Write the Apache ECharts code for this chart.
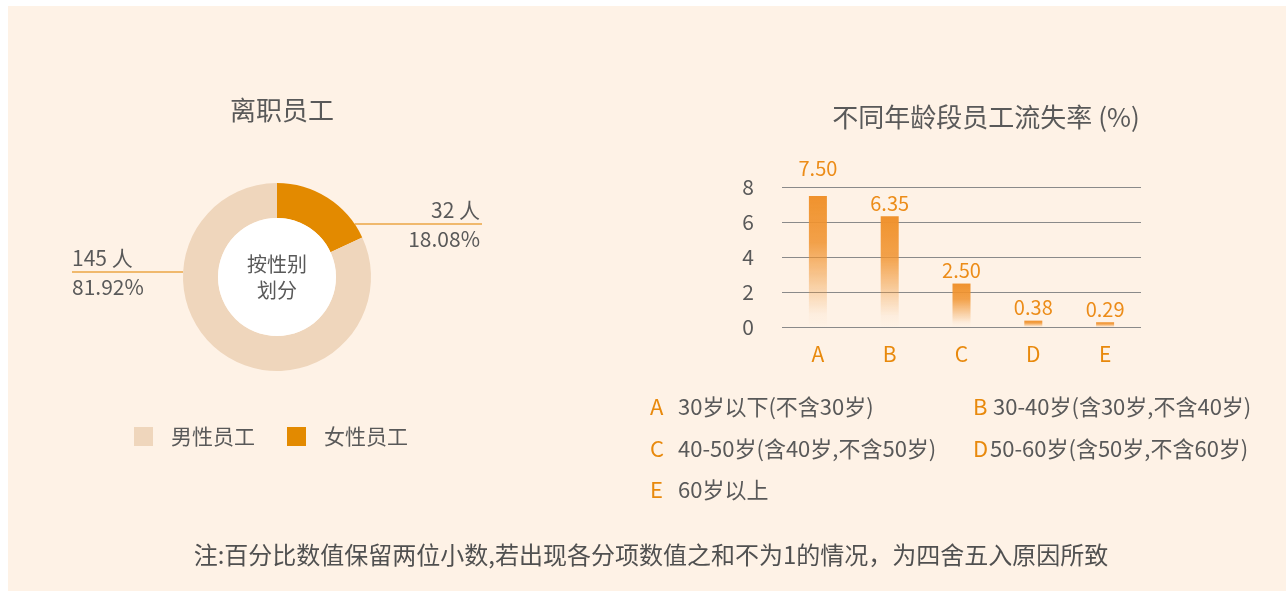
<!DOCTYPE html>
<html><head><meta charset="utf-8">
<script src="https://cdn.jsdelivr.net/npm/echarts@6/dist/echarts.min.js"></script>
<style>
html,body{margin:0;padding:0;background:#fff;width:1286px;height:592px;overflow:hidden}
#bg{position:absolute;left:8px;top:6px;width:1278px;height:585px;background:#FEF2E6}
#main{position:absolute;left:0;top:0;width:1286px;height:592px}
</style></head><body>
<div id="bg"></div><div id="main"></div>
<script>
// ---- data ----
const genderNames = ['女性员工', '男性员工'];
const genderCounts = [32, 145];
const legendOrder = ['男性员工', '女性员工'];
const ageCategories = ['A', 'B', 'C', 'D', 'E'];
const ageLossRates = [7.50, 6.35, 2.50, 0.38, 0.29];
const ageDescriptions = ['30岁以下(不含30岁)', '30-40岁(含30岁,不含40岁)', '40-50岁(含40岁,不含50岁)', '50-60岁(含50岁,不含60岁)', '60岁以上'];
const yAxisMin = 0, yAxisMax = 8, yAxisStep = 2;
const pieTitle = '离职员工';
const pieCenterText = '按性别\n划分';
const barTitle = '不同年龄段员工流失率 (%)';
const footnote = '注:百分比数值保留两位小数,若出现各分项数值之和不为1的情况，为四舍五入原因所致';

// ---- style / layout ----
const FONT = '"Noto Sans CJK SC", "Noto Sans", sans-serif';
const GRAY = '#595959';
const ORANGE = '#E8890C';
const BAR_ORANGE = 'rgba(240,146,45,';
const PIE = { cx: 277, cy: 277, rOut: 94, rIn: 59 };
const pieColors = ['#E38A00', '#EFD6BC'];
const pieLabelPlace = [
  { lineY: 224, edge: 482, side: 'right' },
  { lineY: 272, edge: 72, side: 'left' }
];
const descPlace = [
  { left: 650, top: 394, w: 28 },
  { left: 973, top: 394, w: 20 },
  { left: 650, top: 436, w: 28 },
  { left: 973, top: 436, w: 17 },
  { left: 650, top: 477, w: 28 }
];

const chart = echarts.init(document.getElementById('main'));

const titles = [
  { text: pieTitle, left: 282, top: 97, textAlign: 'center', padding: 0,
    textStyle: { fontFamily: FONT, fontSize: 26, fontWeight: 'normal', color: GRAY } },
  { text: barTitle, left: 986, top: 104, textAlign: 'center', padding: 0,
    textStyle: { fontFamily: FONT, fontSize: 26, fontWeight: 'normal', color: GRAY } },
  { text: footnote, left: 651, top: 543, textAlign: 'center', padding: 0,
    textStyle: { fontFamily: FONT, fontSize: 24, fontWeight: 'normal', color: '#505050' } }
];
ageCategories.forEach(function (c, i) {
  const p = descPlace[i];
  titles.push({
    left: p.left, top: p.top, padding: 0,
    text: '{l|' + c + '}{t|' + ageDescriptions[i] + '}',
    textStyle: {
      fontFamily: FONT, fontWeight: 'normal',
      rich: {
        l: { fontFamily: FONT, fontSize: 22, color: ORANGE, width: p.w, lineHeight: 25 },
        t: { fontFamily: FONT, fontSize: 22, color: GRAY, lineHeight: 25 }
      }
    }
  });
});

const option = {
  backgroundColor: 'transparent',
  textStyle: { fontFamily: FONT },
  title: titles,
  legend: {
    data: legendOrder, left: 134, top: 426, padding: 0,
    icon: 'rect', itemWidth: 19, itemHeight: 19, itemGap: 32,
    textStyle: { fontFamily: FONT, fontSize: 21, color: GRAY, padding: [0, 0, 0, 13] }
  },
  grid: { left: 782, right: 145, top: 187.3, bottom: 264.7, containLabel: false },
  xAxis: {
    type: 'category', data: ageCategories,
    axisLine: { show: false }, axisTick: { show: false },
    axisLabel: { color: ORANGE, fontSize: 21, fontFamily: FONT, margin: 16 }
  },
  yAxis: {
    type: 'value', min: yAxisMin, max: yAxisMax, interval: yAxisStep,
    axisLine: { show: false }, axisTick: { show: false },
    axisLabel: { color: GRAY, fontSize: 21, fontFamily: FONT, margin: 28 },
    splitLine: { lineStyle: { color: '#8a8a8a', width: 1 } }
  },
  series: [
    {
      type: 'pie', name: '离职员工',
      center: [PIE.cx, PIE.cy], radius: [PIE.rIn, PIE.rOut],
      startAngle: 90, clockwise: true, avoidLabelOverlap: false,
      color: pieColors,
      data: genderNames.map(function (n, i) { return { name: n, value: genderCounts[i] }; }),
      label: {
        show: true, position: 'outside',
        formatter: function (p) { return '{a|' + p.value + ' 人}\n{b|' + p.percent.toFixed(2) + '%}'; },
        rich: {
          a: { fontFamily: FONT, fontSize: 21, color: GRAY, lineHeight: 29 },
          b: { fontFamily: FONT, fontSize: 21, color: GRAY, lineHeight: 29 }
        }
      },
      labelLine: { show: true, length: 0, length2: 0, lineStyle: { color: '#EBA645', width: 1.5 } },
      labelLayout: function (p) {
        const s = pieLabelPlace[p.dataIndex];
        const dy = s.lineY - PIE.cy;
        const dx = Math.sqrt(PIE.rOut * PIE.rOut - dy * dy);
        const sx = s.side === 'right' ? PIE.cx + dx : PIE.cx - dx;
        return {
          x: s.side === 'right' ? s.edge - 2 : s.edge,
          y: s.lineY + 1,
          align: s.side === 'right' ? 'right' : 'left',
          verticalAlign: 'middle',
          labelLinePoints: [[sx, s.lineY], [sx, s.lineY], [s.edge, s.lineY]]
        };
      },
      emphasis: { disabled: true }
    },
    {
      type: 'pie', name: 'center', silent: true,
      center: [PIE.cx, PIE.cy], radius: [0, PIE.rIn],
      data: [{ name: '', value: 1, itemStyle: { color: '#ffffff' } }],
      label: {
        show: true, position: 'center', formatter: pieCenterText,
        fontFamily: FONT, fontSize: 20, color: GRAY, lineHeight: 26
      },
      labelLine: { show: false },
      emphasis: { disabled: true }, tooltip: { show: false }
    },
    {
      type: 'bar', name: '流失率', barWidth: 18,
      data: ageLossRates.map(function (v, i) {
        return { value: v, label: { distance: i === 0 ? 18 : 3 } };
      }),
      itemStyle: {
        color: new echarts.graphic.LinearGradient(0, 0, 0, 1, [
          { offset: 0, color: BAR_ORANGE + '1)' },
          { offset: 0.35, color: BAR_ORANGE + '0.85)' },
          { offset: 0.9, color: BAR_ORANGE + '0.04)' },
          { offset: 1, color: BAR_ORANGE + '0)' }
        ])
      },
      label: {
        show: true, position: 'top', color: '#EC8C18', fontSize: 20, fontFamily: FONT,
        formatter: function (p) { return p.value.toFixed(2); }
      },
      emphasis: { disabled: true }
    }
  ]
};
chart.setOption(option);
</script>
</body></html>
